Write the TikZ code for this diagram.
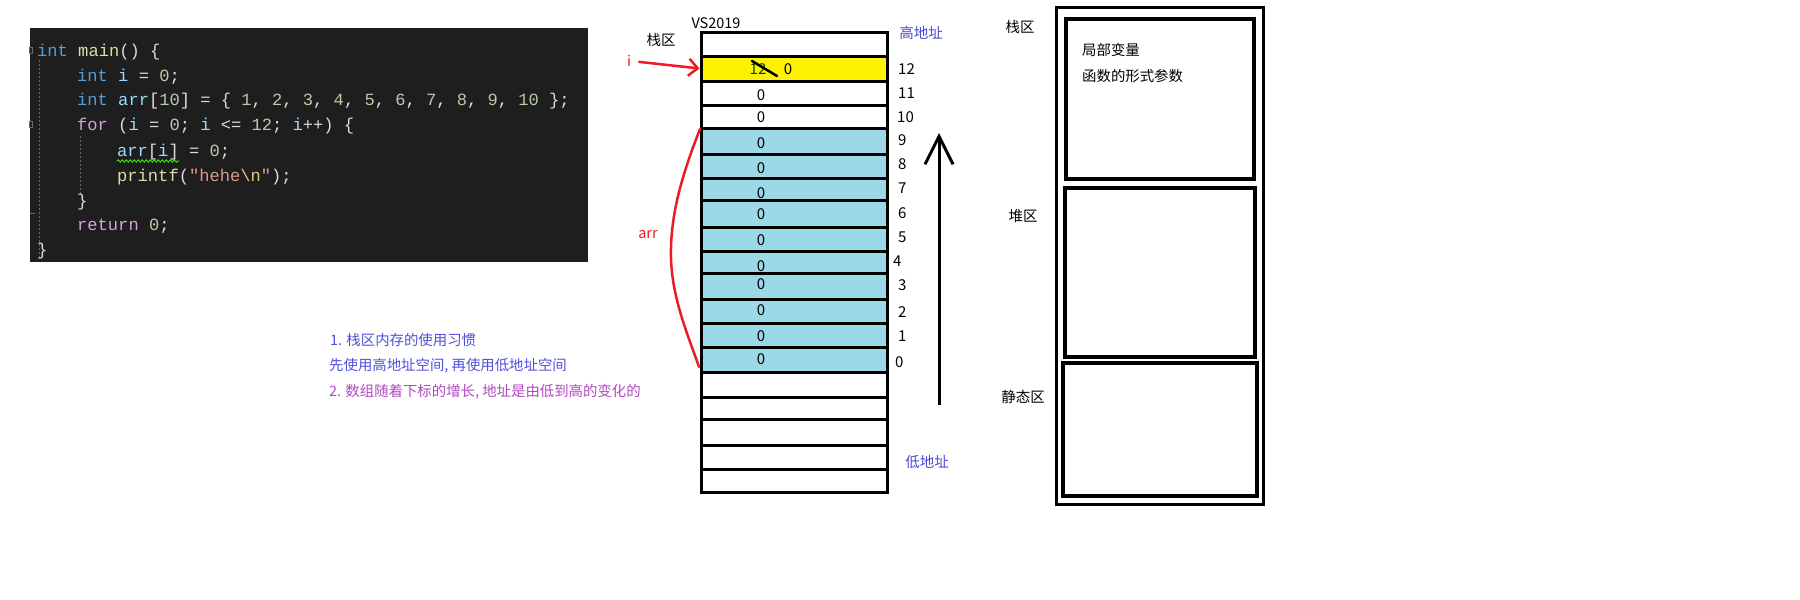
\documentclass[tikz,border=0pt]{standalone}
\usepackage{fontspec}
\setmainfont{Noto Sans CJK SC}
\newfontfamily\codefont{Liberation Mono}[WordSpace={1,0,0}]
\usetikzlibrary{arrows.meta,decorations.pathmorphing}
\definecolor{codebg}{HTML}{1E1E1E}
\definecolor{ckw}{HTML}{569CD6}
\definecolor{cfn}{HTML}{DCDCAA}
\definecolor{cvar}{HTML}{9CDCFE}
\definecolor{cnum}{HTML}{B5CEA8}
\definecolor{cctl}{HTML}{D8A0DF}
\definecolor{cstr}{HTML}{D69D85}
\definecolor{cesc}{HTML}{E8C77B}
\definecolor{cpun}{HTML}{DCDCDC}
\definecolor{cguide}{HTML}{6A6A6A}
\definecolor{cellblue}{HTML}{9BD8E8}
\definecolor{cellyellow}{HTML}{FFF200}
\definecolor{penred}{HTML}{EC1C24}
\definecolor{noteblue}{HTML}{5050DC}
\definecolor{notepurple}{HTML}{B248C4}
\definecolor{addrblue}{HTML}{4A4AD6}
\newcommand\cdK[1]{\textcolor{ckw}{#1}}
\newcommand\cdF[1]{\textcolor{cfn}{#1}}
\newcommand\cdV[1]{\textcolor{cvar}{#1}}
\newcommand\cdN[1]{\textcolor{cnum}{#1}}
\newcommand\cdC[1]{\textcolor{cctl}{#1}}
\newcommand\cdS[1]{\textcolor{cstr}{#1}}
\newcommand\cdE[1]{\textcolor{cesc}{#1}}
\newcommand\cdP[1]{\textcolor{cpun}{#1}}
\tikzset{
  codeline/.style={anchor=base west, inner sep=0, font=\codefont\fontsize{17.1}{20}\selectfont\frenchspacing},
  cell/.style={draw=black, line width=3pt, minimum width=186pt, inner sep=0},
  val/.style={inner sep=0, font=\fontsize{15}{18}\selectfont},
  idx/.style={anchor=west, inner sep=0, font=\fontsize{15}{18}\selectfont},
  lbl/.style={inner sep=0, font=\fontsize{14.5}{17}\selectfont},
  note/.style={anchor=west, inner sep=0, font=\fontsize{14.4}{17}\selectfont},
  redpen/.style={draw=penred, line width=2.5pt, line cap=round},
  guide/.style={draw=cguide, line width=0.8pt, dash pattern=on 2pt off 2pt},
  membox/.style={draw=black, line width=4pt, inner sep=0},
}
\begin{document}
\begin{tikzpicture}[x=1pt,y=-1pt]
\useasboundingbox (0,0) rectangle (1800,600);
\fill[white] (0,0) rectangle (1800,600);

% ---------- code block ----------
\node[fill=codebg, minimum width=558pt, minimum height=234pt, inner sep=0] (code) at (309,145) {};
\draw[guide] (39,60) -- (39,258);
\draw[guide] (80,136) -- (80,195);
\node[draw=cguide, line width=0.6pt, minimum width=3pt, minimum height=6pt, inner sep=0] (fold1) at (31,50) {};
\node[draw=cguide, line width=0.6pt, minimum width=3pt, minimum height=6pt, inner sep=0] (fold2) at (31,124) {};
\draw[cguide, line width=0.8pt] (30,213) -- (35,213);

\node[codeline] (l1) at (37,56) {\cdK{int}\ \cdF{main}\cdP{()\ \{}};
\node[codeline] (l2) at (77,81) {\cdK{int}\ \cdV{i}\ \cdP{=}\ \cdN{0}\cdP{;}};
\node[codeline] (l3) at (77,105) {\cdK{int}\ \cdV{arr}\cdP{[}\cdN{10}\cdP{]\ =\ \{\ }\cdN{1}\cdP{,}\ \cdN{2}\cdP{,}\ \cdN{3}\cdP{,}\ \cdN{4}\cdP{,}\ \cdN{5}\cdP{,}\ \cdN{6}\cdP{,}\ \cdN{7}\cdP{,}\ \cdN{8}\cdP{,}\ \cdN{9}\cdP{,}\ \cdN{10}\cdP{\ \};}};
\node[codeline] (l4) at (77,130) {\cdC{for}\ \cdP{(}\cdV{i}\ \cdP{=}\ \cdN{0}\cdP{;}\ \cdV{i}\ \cdP{<=}\ \cdN{12}\cdP{;}\ \cdV{i}\cdP{++)\ \{}};
\node[codeline] (l5) at (117,156) {\cdV{arr}\cdP{[}\cdV{i}\cdP{]\ =\ }\cdN{0}\cdP{;}};
\node[codeline] (l6) at (117,181) {\cdF{printf}\cdP{(}\cdS{"hehe}\cdE{\textbackslash n}\cdS{"}\cdP{);}};
\node[codeline] (l7) at (77,206) {\cdP{\}}};
\node[codeline] (l8) at (77,230) {\cdC{return}\ \cdN{0}\cdP{;}};
\node[codeline] (l9) at (37,255) {\cdP{\}}};
\draw[draw=green!75!yellow, line width=0.8pt, decorate, decoration={snake, amplitude=1.2pt, segment length=4pt}] (117,161) -- (179,161);

% ---------- stack column ----------
\foreach \t/\b/\f/\n in {32/56/white/rtop, 56/81/cellyellow/r12, 81/105/white/r11, 105/128/white/r10,
  128/154/cellblue/r9, 154/178/cellblue/r8, 178/200/cellblue/r7, 200/227/cellblue/r6, 227/251/cellblue/r5,
  251/273/cellblue/r4, 273/299/cellblue/r3, 299/323/cellblue/r2, 323/347/cellblue/r1, 347/372/cellblue/r0,
  372/397/white/e1, 397/419/white/e2, 419/445/white/e3, 445/469/white/e4, 469/492/white/e5}
  \node[cell, fill=\f, minimum height={(\b-\t)*1pt}] (\n) at (794,{(\t+\b)/2}) {};
% redraw borders on top so that shared edges are crisp
\foreach \t/\b/\n in {32/56/rtopb, 56/81/r12b, 81/105/r11b, 105/128/r10b, 128/154/r9b, 154/178/r8b, 178/200/r7b,
  200/227/r6b, 227/251/r5b, 251/273/r4b, 273/299/r3b, 299/323/r2b, 323/347/r1b, 347/372/r0b,
  372/397/e1b, 397/419/e2b, 419/445/e3b, 445/469/e4b, 469/492/e5b}
  \node[cell, minimum height={(\b-\t)*1pt}] (\n) at (794,{(\t+\b)/2}) {};

% values
\node[val, text=black!70!green] (v12old) at (758,69) {12};
\draw[black, line width=2.5pt, line cap=round] (752,61) -- (777,76);
\node[val] (v12) at (788,69) {0};
\foreach \y/\n in {95/v11, 117/v10, 143/v9, 168/v8, 193/v7, 214/v6, 240/v5, 266/v4, 284/v3, 310/v2, 336/v1, 359/v0}
  \node[val] (\n) at (761,\y) {0};

% index labels
\foreach \x/\y/\t/\n in {898/69/12/i12, 898/93/11/i11, 897/117/10/i10, 898/140/9/i9, 898/164/8/i8, 898/188/7/i7,
  898/213/6/i6, 898/237/5/i5, 893/261/4/i4, 898/285/3/i3, 898/312/2/i2, 898/336/1/i1, 895/362/0/i0}
  \node[idx] (\n) at (\x,\y) {\t};

% labels around the stack
\node[lbl] (vs) at (716,23) {VS2019};
\node[lbl] (zq) at (661,40) {栈区};
\node[lbl, text=addrblue] (high) at (921,33) {高地址};
\node[lbl, text=addrblue] (low) at (927,462) {低地址};
\node[lbl, text=penred] (ilab) at (629,61) {i};
\node[lbl, text=penred] (arrlab) at (648,235) {arr};

% red arrow i -> cell 12
\draw[redpen, shorten <=8pt, -{Straight Barb[length=9pt,width=17pt,line width=2.5pt]}] (ilab.east) -- (r12.west);

% red bracket for arr
\coordinate (arrTop) at (700,129);
\coordinate (arrMid) at (671,258);
\coordinate (arrEnd) at (699,367);
\draw[redpen] (arrTop) .. controls (682,175) and (670,215) .. (arrMid) .. controls (672,300) and (690,340) .. (arrEnd);

% big growth arrow
\coordinate (upS) at (939,405);
\coordinate (upE) at (939,133);
\draw[black, line width=3pt, -{Straight Barb[length=28pt,width=28pt,line width=3pt]}] (upS) -- (upE);

% ---------- notes ----------
\node[note, text=noteblue] (n1) at (330,340) {1. 栈区内存的使用习惯};
\node[note, text=noteblue] (n2) at (329,366) {先使用高地址空间, 再使用低地址空间};
\node[note, text=notepurple] (n3) at (329,392) {2. 数组随着下标的增长, 地址是由低到高的变化的};

% ---------- memory layout ----------
\node[draw=black, line width=3pt, minimum width=207pt, minimum height=497pt, inner sep=0] (mem) at (1159.5,255.5) {};
\node[membox, minimum width=188pt, minimum height=160pt] (stackbox) at (1160,99) {};
\node[membox, minimum width=190pt, minimum height=169pt] (heapbox) at (1160,272.5) {};
\node[membox, minimum width=194pt, minimum height=133pt] (staticbox) at (1160,429.5) {};
\node[lbl] (zqR) at (1020,27) {栈区};
\node[lbl] (dq) at (1023,216) {堆区};
\node[lbl] (jtq) at (1023,397) {静态区};
\node[note, text=black] (jb) at (1082,50) {局部变量};
\node[note, text=black] (hs) at (1082,76) {函数的形式参数};
\end{tikzpicture}
\end{document}
